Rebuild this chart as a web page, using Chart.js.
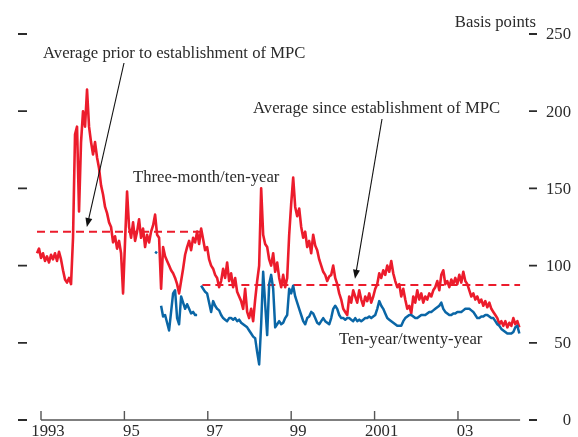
<!DOCTYPE html>
<html>
<head>
<meta charset="utf-8">
<script src="https://cdn.jsdelivr.net/npm/chart.js@4.4.0/dist/chart.umd.min.js"></script>
<style>
  html, body { margin: 0; padding: 0; background: #fff; }
</style>
</head>
<body>
<canvas id="spreadChart" width="578" height="437"></canvas>
<script>
// Yield spreads, basis points. Samples every ~2.5 weeks.
const sampleStep = 0.048;          // years between samples
const redStart = 1992.904;         // first three-month/ten-year sample
const blueStart = 1995.736;        // first ten-year/twenty-year sample

const threeMonthTenYear = [
  108, 111, 105, 108, 103, 106, 102, 107, 104, 108,
  103, 109, 104, 97, 91, 89, 92, 88, 118, 185,
  190, 135, 180, 200, 190, 214, 190, 180, 172, 180,
  170, 163, 152, 146, 138, 134, 128, 125, 115, 119,
  111, 116, 108, 82, 116, 148, 125, 118, 128, 116,
  122, 130, 118, 124, 112, 120, 115, 122, 126, 133,
  120, 118, 85, 112, 106, 103, 100, 97, 95, 92,
  88, 82, 90, 98, 107, 112, 116, 110, 118, 115,
  122, 114, 124, 117, 110, 112, 104, 100, 98, 94,
  92, 86, 90, 98, 92, 102, 90, 95, 86, 92,
  83, 80, 77, 72, 85, 70, 66, 72, 64, 78,
  90, 100, 150, 120, 114, 112, 104, 100, 108, 96,
  102, 92, 86, 94, 86, 92, 120, 140, 157, 138,
  132, 137, 125, 118, 122, 112, 116, 108, 120, 113,
  110, 104, 100, 96, 94, 90, 93, 94, 100, 92,
  88, 82, 78, 72, 70, 68, 80, 76, 84, 80,
  76, 84, 78, 74, 80, 77, 82, 76, 80, 85,
  88, 95, 92, 97, 94, 100, 96, 103, 95, 90,
  86, 88, 80, 85, 78, 72, 74, 69, 80, 76,
  84, 78, 82, 76, 80, 78, 82, 80, 84, 86,
  90, 84, 94, 97, 88, 90, 86, 91, 88, 92,
  88, 94, 89, 96, 90, 88, 84, 80, 82, 78,
  80, 76, 78, 74, 77, 73, 76, 72, 70, 68,
  66, 62, 64, 61, 64, 60, 63, 61, 66, 62,
  64, 60
];

const tenYearTwentyYear = [
  109, 108, null, 74, 67, 68, 63, 58, 70, 82,
  84, 66, 62, 80, 76, 72, 75, 72, 69, 70,
  68, 68, null, 87, 85, 83, 82, 76, 70, 77,
  74, 72, 71, 68, 66, 65, 64, 66, 66, 65,
  66, 64, 65, 63, 62, 61, 60, 58, 56, 54,
  53, 44, 36, 62, 96, 75, 55, 88, 94, 85,
  60, 62, 64, 62, 63, 66, 68, 85, 82, 87,
  80, 76, 72, 68, 64, 62, 66, 67, 70, 69,
  66, 63, 62, 64, 66, 64, 63, 62, 66, 72,
  74, 72, 68, 66, 66, 65, 66, 66, 65, 64,
  66, 64, 65, 64, 65, 66, 66, 67, 66, 67,
  68, 72, 77, 74, 72, 69, 66, 65, 64, 63,
  62, 61, 61, 61, 64, 66, 67, 68, 68, 67,
  66, 66, 67, 68, 68, 68, 69, 70, 70, 71,
  72, 73, 74, 76, 72, 70, 69, 68, 68, 69,
  69, 70, 70, 70, 71, 72, 72, 72, 71, 70,
  68, 66, 66, 67, 67, 68, 68, 67, 66, 66,
  64, 62, 61, 59, 58, 57, 56, 56, 56, 57,
  60, 61, 56
];

// Averages of the three-month/ten-year spread
const avgPeriods = [[1992.904, 1996.91], [1996.87, 2004.49]];
const avgValues = [122, 87.5];

const yTicks = [0, 50, 100, 150, 200, 250];
const xTickYears = [1993, 1995, 1997, 1999, 2001, 2003];
const xTickLabels = ['1993', '95', '97', '99', '2001', '03'];

const RED = '#ec1c2c';
const BLUE = '#0a66a6';
const INK = '#2b2b2b';
const FONT = '16.7px "Liberation Serif", serif';

const toPoints = (start, values) => values.map((v, i) => ({ x: start + i * sampleStep, y: v }));

const decor = {
  id: 'decor',
  afterDraw(chart) {
    const { ctx, scales: { x, y } } = chart;
    ctx.save();
    ctx.strokeStyle = INK;
    ctx.fillStyle = INK;
    ctx.font = FONT;

    // value axis ticks, left (no labels) and right (labelled)
    ctx.lineWidth = 1.8;
    ctx.textAlign = 'right';
    ctx.textBaseline = 'middle';
    yTicks.forEach(v => {
      const py = y.getPixelForValue(v);
      ctx.beginPath();
      ctx.moveTo(18, py); ctx.lineTo(27, py);
      ctx.moveTo(529, py); ctx.lineTo(537, py);
      ctx.stroke();
      ctx.fillText(String(v), 571, py + 1);
    });
    ctx.textBaseline = 'alphabetic';
    ctx.fillText('Basis points', 536, 27);

    // time axis
    const base = y.getPixelForValue(0);
    ctx.lineWidth = 1.4;
    ctx.strokeStyle = '#555';
    ctx.beginPath();
    ctx.moveTo(x.getPixelForValue(1993), base);
    ctx.lineTo(x.getPixelForValue(2004.49), base);
    xTickYears.forEach(yr => {
      const px = x.getPixelForValue(yr);
      ctx.moveTo(px, base); ctx.lineTo(px, base - 9);
    });
    ctx.stroke();
    ctx.textAlign = 'center';
    xTickYears.forEach((yr, i) => {
      ctx.fillText(xTickLabels[i], x.getPixelForValue(yr) + 7, 436);
    });

    // annotations
    ctx.textAlign = 'left';
    ctx.fillText('Average prior to establishment of MPC', 43, 58);
    ctx.fillText('Average since establishment of MPC', 253, 113);
    ctx.fillText('Three-month/ten-year', 133, 182);
    ctx.fillText('Ten-year/twenty-year', 339, 344);

    const arrow = (x0, y0, yr, val) => {
      const x1 = x.getPixelForValue(yr), y1 = y.getPixelForValue(val);
      const a = Math.atan2(y1 - y0, x1 - x0);
      ctx.strokeStyle = '#111';
      ctx.fillStyle = '#111';
      ctx.lineWidth = 1.1;
      ctx.beginPath();
      ctx.moveTo(x0, y0);
      ctx.lineTo(x1 - 7 * Math.cos(a), y1 - 7 * Math.sin(a));
      ctx.stroke();
      ctx.beginPath();
      ctx.moveTo(x1, y1);
      ctx.lineTo(x1 - 9 * Math.cos(a) + 3.5 * Math.sin(a), y1 - 9 * Math.sin(a) - 3.5 * Math.cos(a));
      ctx.lineTo(x1 - 9 * Math.cos(a) - 3.5 * Math.sin(a), y1 - 9 * Math.sin(a) + 3.5 * Math.cos(a));
      ctx.closePath();
      ctx.fill();
    };
    arrow(124, 63, 1994.10, 125);
    arrow(382, 119, 2000.53, 91.5);
    ctx.restore();
  }
};

new Chart(document.getElementById('spreadChart'), {
  type: 'line',
  data: {
    datasets: [
      {
        label: 'Ten-year/twenty-year',
        data: toPoints(blueStart, tenYearTwentyYear),
        borderColor: BLUE,
        borderWidth: 2.5,
        order: 0
      },
      {
        label: 'Average prior',
        data: avgPeriods[0].map(t => ({ x: t, y: avgValues[0] })),
        borderColor: RED,
        borderWidth: 2,
        borderDash: [8, 5],
        order: 1
      },
      {
        label: 'Average since',
        data: avgPeriods[1].map(t => ({ x: t, y: avgValues[1] })),
        borderColor: RED,
        borderWidth: 2,
        borderDash: [8, 5],
        order: 1
      },
      {
        label: 'Three-month/ten-year',
        data: toPoints(redStart, threeMonthTenYear),
        borderColor: RED,
        borderWidth: 2.6,
        order: 2
      }
    ]
  },
  options: {
    responsive: false,
    animation: false,
    spanGaps: false,
    layout: { padding: { left: 34.75, right: 55.4, top: 34, bottom: 17 } },
    elements: { point: { radius: 0 }, line: { tension: 0, borderJoinStyle: 'round' } },
    scales: {
      x: { type: 'linear', min: 1992.85, max: 2004.55, display: false },
      y: { min: 0, max: 250, display: false }
    },
    plugins: { legend: { display: false }, tooltip: { enabled: false } }
  },
  plugins: [decor]
});
</script>
</body>
</html>
